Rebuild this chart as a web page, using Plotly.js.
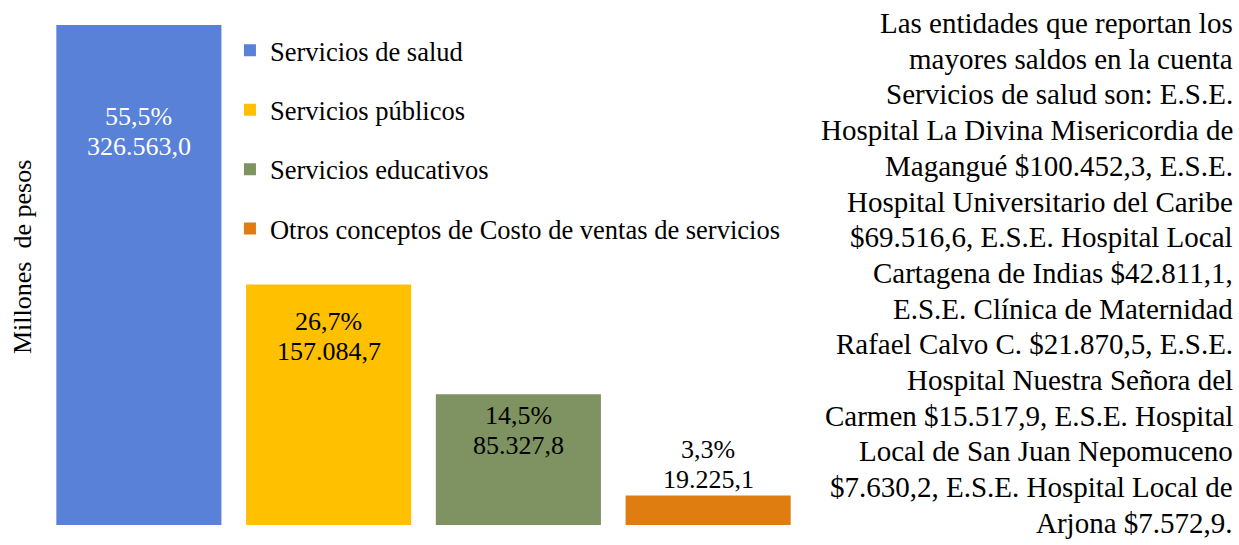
<!DOCTYPE html>
<html>
<head>
<meta charset="utf-8">
<script src="https://cdn.plot.ly/plotly-3.0.1.min.js"></script>
<style>
html,body{margin:0;padding:0;background:#fff;}
#chart{width:1239px;height:545px;}
</style>
</head>
<body>
<div id="chart"></div>
<script>
// ---- data ----
const categories = ['Servicios de salud', 'Servicios públicos', 'Servicios educativos', 'Otros conceptos de Costo de ventas de servicios'];
const values = [326563.0, 157084.7, 85327.8, 19225.1];
const percentLabels = ['55,5%', '26,7%', '14,5%', '3,3%'];
const valueLabels = ['326.563,0', '157.084,7', '85.327,8', '19.225,1'];
const yAxisTitle = 'Millones&nbsp; de pesos';
const sideText = [
  'Las entidades que reportan los',
  'mayores saldos en la cuenta',
  'Servicios de salud son: E.S.E.',
  'Hospital La Divina Misericordia de',
  'Magangué $100.452,3, E.S.E.',
  'Hospital Universitario del Caribe',
  '$69.516,6, E.S.E. Hospital Local',
  'Cartagena de Indias $42.811,1,',
  'E.S.E. Clínica de Maternidad',
  'Rafael Calvo C. $21.870,5, E.S.E.',
  'Hospital Nuestra Señora del',
  'Carmen $15.517,9, E.S.E. Hospital',
  'Local de San Juan Nepomuceno',
  '$7.630,2, E.S.E. Hospital Local de',
  'Arjona $7.572,9.'
];

// ---- styles ----
const colors = ['#5881D7', '#FFC000', '#7E9262', '#DF7D11'];
const labelColors = ['#FFFFFF', '#000000', '#000000', '#000000'];
// baseline of first label line, in px below bar top (negative = above)
const labelBaseline = [99, 45, 29, -38];
const labelLineGap = 30;
const labelFontSize = 26;
const sideFontSize = 29;
const sideLineGap = 35.7;
const FONT = '"Liberation Serif", "Times New Roman", serif';

const traces = categories.map((c, i) => ({
  type: 'bar',
  x: [c],
  y: [values[i]],
  name: c,
  legendgroup: 'g' + i,
  marker: {color: colors[i]},
  hoverinfo: 'x+y'
}));

const annotations = [];
categories.forEach((c, i) => {
  [percentLabels[i], valueLabels[i]].forEach((t, k) => {
    annotations.push({
      x: c, y: values[i], xref: 'x', yref: 'y',
      text: t, showarrow: false,
      yanchor: 'middle',
      yshift: -(labelBaseline[i] + k * labelLineGap - 8),
      font: {family: FONT, size: labelFontSize, color: labelColors[i]}
    });
  });
});

sideText.forEach((t, i) => {
  annotations.push({
    xref: 'paper', yref: 'paper',
    x: 1.5642, y: 1,
    xanchor: 'right', yanchor: 'middle',
    xshift: 4,
    yshift: 2 - i * sideLineGap,
    showarrow: false,
    text: t,
    font: {family: FONT, size: sideFontSize, color: '#000000'}
  });
});

annotations.push({
  xref: 'paper', yref: 'paper',
  x: 0, y: 0.5, xshift: -22, yshift: 18,
  xanchor: 'center', yanchor: 'middle',
  textangle: -90,
  showarrow: false,
  text: yAxisTitle,
  font: {family: FONT, size: 26, color: '#000000'}
});

const layout = {
  width: 1239,
  height: 545,
  margin: {l: 44, r: 435.5, t: 25, b: 20},
  paper_bgcolor: '#FFFFFF',
  plot_bgcolor: '#FFFFFF',
  barmode: 'overlay',
  bargap: 0.13,
  font: {family: FONT, color: '#000000'},
  showlegend: true,
  legend: {
    x: 0.245, xanchor: 'left',
    y: 0.997, yanchor: 'top',
    tracegroupgap: 22,
    font: {family: FONT, size: 26.5, color: '#000000'},
    bgcolor: 'rgba(0,0,0,0)'
  },
  xaxis: {
    showticklabels: false, showgrid: false, zeroline: false, showline: false,
    ticks: '', fixedrange: true
  },
  yaxis: {
    range: [0, Math.max(...values)],
    showticklabels: false, showgrid: false, zeroline: false, showline: false,
    ticks: ''
  },
  annotations: annotations
};

Plotly.newPlot('chart', traces, layout, {displayModeBar: false, staticPlot: true});
</script>
</body>
</html>
